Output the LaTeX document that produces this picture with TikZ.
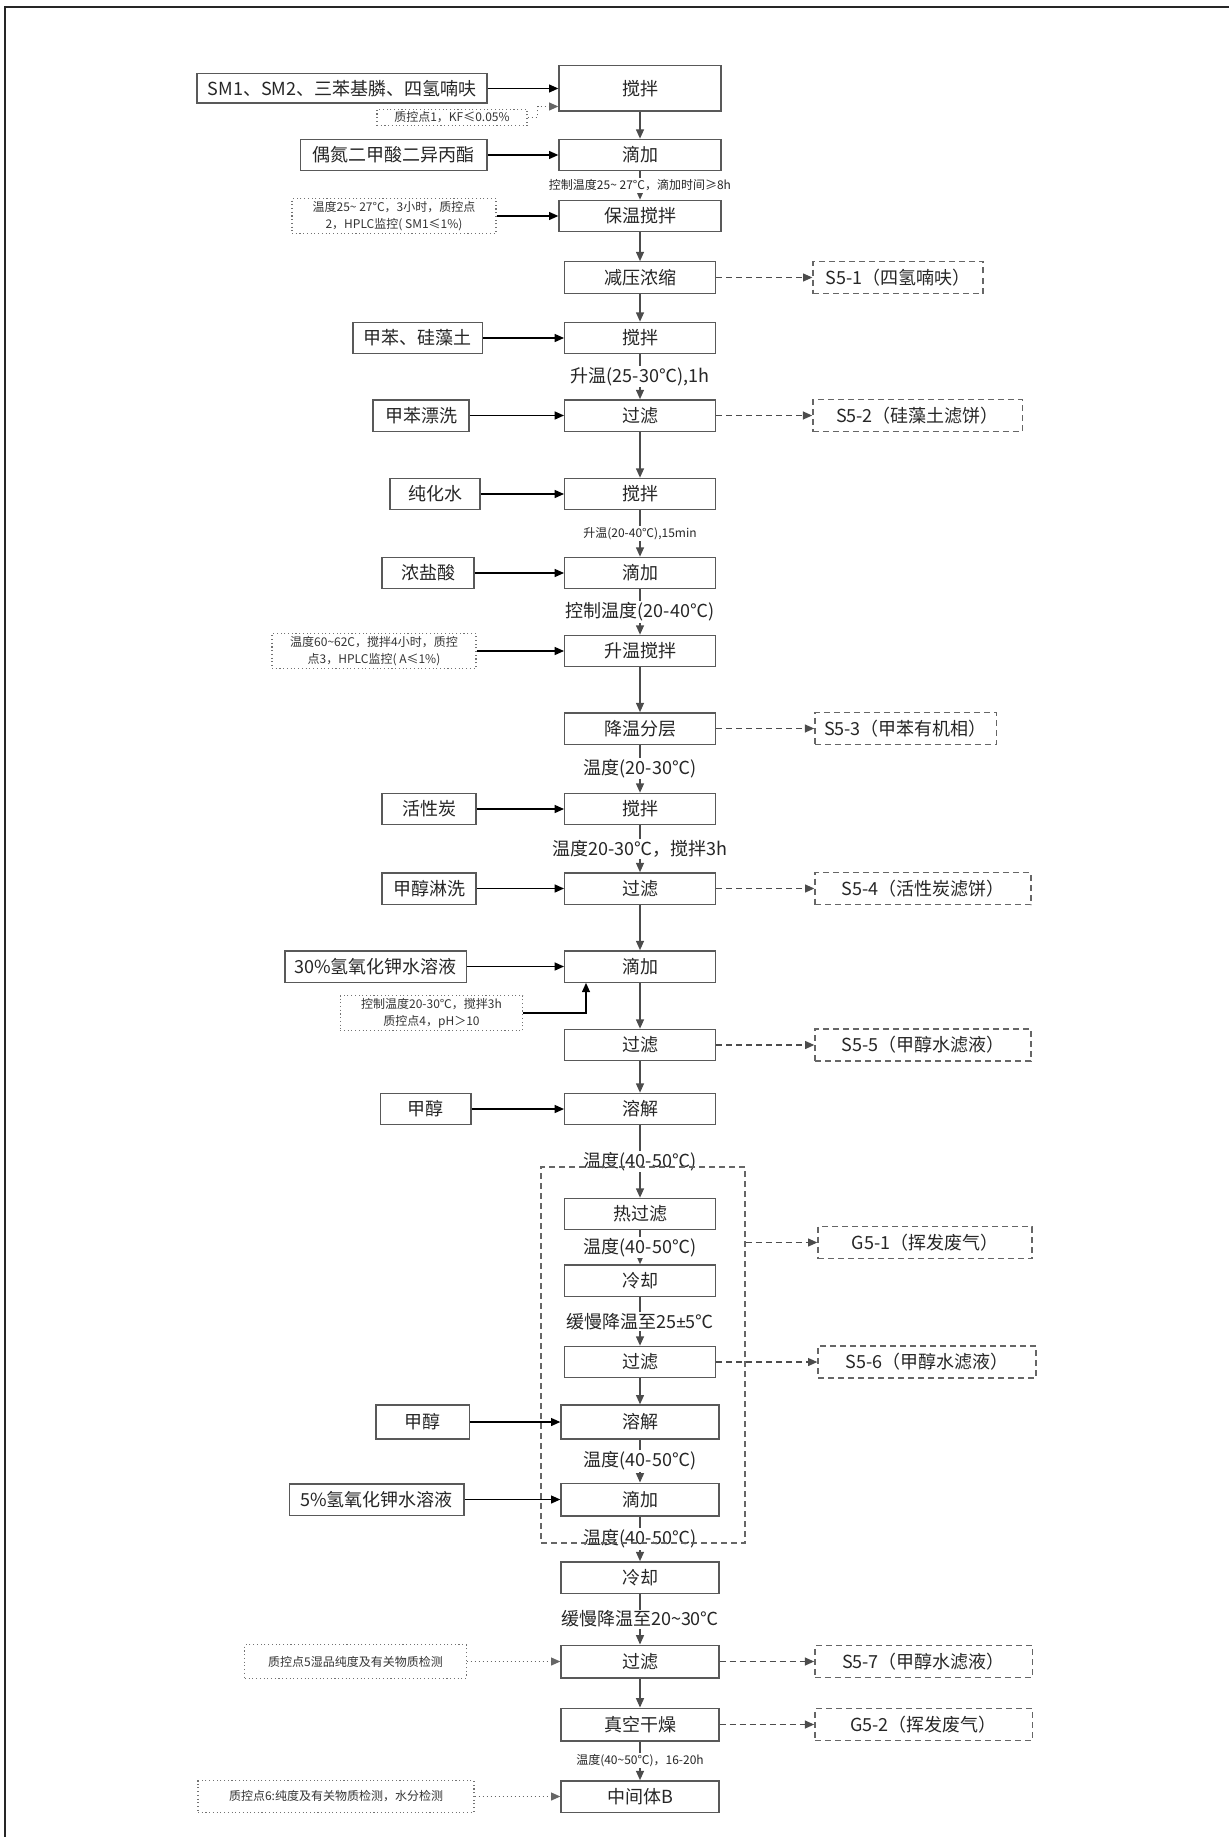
\documentclass[tikz,border=0pt]{standalone}
\usepackage{fontspec}
\setmainfont{Noto Sans CJK SC}
\newfontfamily\lat{Carlito}
\usetikzlibrary{arrows.meta}
\tikzset{pr/.style = {rectangle, draw=black!65, line width=1pt, minimum width=113pt, minimum height=23.5pt, inner sep=2pt, text=black!85, font=\fontsize{13.5}{16}\selectfont},
           mat/.style = {pr, minimum width=70pt},
           qc/.style = {rectangle, draw=black!55, dotted, line width=0.8pt, inner sep=2pt, align=center, text=black!80, font=\fontsize{9}{12.5}\selectfont},
           ws/.style = {rectangle, draw=black!60, dash pattern=on 4.5pt off 3pt, line width=1pt, minimum height=24pt, inner sep=2pt, text=black!85, font=\fontsize{13.5}{16}\selectfont},
           lb/.style = {fill=white, inner sep=1pt, text=black!85, font=\fontsize{13.5}{16}\selectfont},
           ls/.style = {lb, font=\fontsize{9}{11}\selectfont},
           fl/.style = {->, draw=black!70, line width=1pt},
           il/.style = {->, draw=black, line width=1pt},
           wl/.style = {->, draw=black!70, dash pattern=on 4.5pt off 3pt, line width=1pt},
           ql/.style = {->, draw=black!60, dotted, line width=1pt}}

\begin{document}
\begin{tikzpicture}[x=0.75pt, y=-0.75pt, >={Triangle[length=7pt, width=6pt]}]
    \useasboundingbox (0,0) rectangle (1229,1837);
    \draw[line width=1.6pt, black!85] (5,1837) -- (5,7) -- (1229,7);
    % main column
    \node[pr, minimum width=121.5pt, minimum height=34pt] (stir1) at (640,88.5) {搅拌};
    \node[pr, minimum width=121.5pt] (drop1) at (640,155) {滴加};
    \node[pr, minimum width=121.5pt] (keep) at (640,216) {保温搅拌};
    \node[pr] (conc) at (640,277.5) {减压浓缩};
    \node[pr] (stir2) at (640,338) {搅拌};
    \node[pr] (filt1) at (640,415.5) {过滤};
    \node[pr] (stir3) at (640,494) {搅拌};
    \node[pr] (drop2) at (640,573) {滴加};
    \node[pr] (heat) at (640,651) {升温搅拌};
    \node[pr] (sep) at (640,728.5) {降温分层};
    \node[pr] (stir4) at (640,809) {搅拌};
    \node[pr] (filt2) at (640,888.5) {过滤};
    \node[pr] (drop3) at (640,966.5) {滴加};
    \node[pr] (filt3) at (640,1045) {过滤};
    \node[pr] (diss1) at (640,1109) {溶解};
    \node[pr] (hotf) at (640,1214) {热过滤};
    \node[pr] (cool1) at (640,1280.5) {冷却};
    \node[pr] (filt4) at (640,1362) {过滤};
    \node[pr, minimum width=118.5pt, minimum height=25.5pt] (diss2) at (640,1422) {溶解};
    \node[pr, minimum width=118.5pt, minimum height=24.5pt] (drop4) at (640,1499.5) {滴加};
    \node[pr, minimum width=118.5pt] (cool2) at (640,1577.5) {冷却};
    \node[pr, minimum width=118.5pt, minimum height=24.5pt] (filt5) at (640,1661.5) {过滤};
    \node[pr, minimum width=118.5pt, minimum height=24.5pt] (dry) at (640,1724.5) {真空干燥};
    \node[pr, minimum width=118.5pt] (prod) at (640,1796.5) {中间体B};
    % inputs
    \node[mat, minimum width=217.5pt, minimum height=22pt] (sm) at (342,88.5) {SM1、SM2、三苯基膦、四氢喃呋};
    \node[mat, minimum width=140pt] (dia) at (393.5,155) {偶氮二甲酸二异丙酯};
    \node[mat, minimum width=97pt] (tol1) at (417.5,338) {甲苯、硅藻土};
    \node[mat, minimum width=72pt] (tol2) at (421,415.5) {甲苯漂洗};
    \node[mat, minimum width=67.5pt] (wat) at (435,494) {纯化水};
    \node[mat, minimum width=69pt] (hcl) at (428,573) {浓盐酸};
    \node[mat, minimum width=70.5pt] (carb) at (429,809) {活性炭};
    \node[mat, minimum width=70.5pt] (mer) at (429,888.5) {甲醇淋洗};
    \node[mat, minimum width=136pt] (koh1) at (375.5,966.5) {30\%氢氧化钾水溶液};
    \node[mat, minimum width=68pt] (me1) at (425.5,1109) {甲醇};
    \node[mat, minimum width=70pt, minimum height=25.5pt] (me2) at (422.5,1422) {甲醇};
    \node[mat, minimum width=131pt] (koh2) at (376.5,1499.5) {5\%氢氧化钾水溶液};
    % quality control points
    \node[qc, minimum width=112.5pt, minimum height=11pt] (qc1) at (452,117.5) {质控点1，KF≤0.05\%};
    \node[qc, minimum width=153pt, minimum height=25pt] (qc2) at (394,216) {温度25\textasciitilde{} 27°C，3小时，质控点\\2，HPLC监控( SM1≤1\%)};
    \node[qc, minimum width=153pt, minimum height=26pt] (qc3) at (374,651) {温度60\textasciitilde{}62C，搅拌4小时，质控\\点3，HPLC监控( A≤1\%)};
    \node[qc, minimum width=137pt, minimum height=25.5pt] (qc4) at (431.5,1013) {控制温度20-30℃，搅拌3h\\质控点4，pH＞10};
    \node[qc, minimum width=166pt, minimum height=25pt] (qc5) at (355.5,1661.5) {质控点5湿品纯度及有关物质检测};
    \node[qc, minimum width=207pt, minimum height=23.5pt] (qc6) at (336,1796.5) {质控点6:纯度及有关物质检测，水分检测};
    % waste
    \node[ws, minimum width=127.5pt] (s51) at (898,277.5) {S5-1（四氢喃呋）};
    \node[ws, minimum width=157pt] (s52) at (917.5,415.5) {S5-2（硅藻土滤饼）};
    \node[ws, minimum width=136pt] (s53) at (905.5,728.5) {S5-3（甲苯有机相）};
    \node[ws, minimum width=162pt] (s54) at (923,888.5) {S5-4（活性炭滤饼）};
    \node[ws, minimum width=162pt] (s55) at (923,1045) {S5-5（甲醇水滤液）};
    \node[ws, minimum width=160.5pt] (g51) at (925,1242.5) {G5-1（挥发废气）};
    \node[ws, minimum width=163.5pt] (s56) at (927,1362) {S5-6（甲醇水滤液）};
    \node[ws, minimum width=163pt] (s57) at (923.5,1661.5) {S5-7（甲醇水滤液）};
    \node[ws, minimum width=163pt] (g52) at (923.5,1724.5) {G5-2（挥发废气）};
    % flow
    \draw[fl] (stir1) -- (drop1);
    \draw[fl] (drop1) -- node[ls] {控制温度25\textasciitilde{} 27°C，滴加时间≥8h} (keep);
    \draw[fl] (keep) -- (conc);
    \draw[fl] (conc) -- (stir2);
    \draw[fl] (stir2) -- node[lb] {升温(25-30℃),1h} (filt1);
    \draw[fl] (filt1) -- (stir3);
    \draw[fl] (stir3) -- node[ls] {升温(20-40℃),15min} (drop2);
    \draw[fl] (drop2) -- node[lb] {控制温度(20-40℃)} (heat);
    \draw[fl] (heat) -- (sep);
    \draw[fl] (sep) -- node[lb] {温度(20-30℃)} (stir4);
    \draw[fl] (stir4) -- node[lb] {温度20-30℃，搅拌3h} (filt2);
    \draw[fl] (filt2) -- (drop3);
    \draw[fl] (drop3) -- (filt3);
    \draw[fl] (filt3) -- (diss1);
    \draw[fl] (diss1) -- node[lb] {温度(40-50℃)} (hotf);
    \draw[fl] (hotf) -- node[lb] {温度(40-50℃)} (cool1);
    \draw[fl] (cool1) -- node[lb] {缓慢降温至25{\lat ±}5℃} (filt4);
    \draw[fl] (filt4) -- (diss2);
    \draw[fl] (diss2) -- node[lb] {温度(40-50℃)} (drop4);
    \draw[fl] (drop4) -- node[lb] {温度(40-50℃)} (cool2);
    \draw[fl] (cool2) -- node[lb] {缓慢降温至20\textasciitilde{}30℃} (filt5);
    \draw[fl] (filt5) -- (dry);
    \draw[fl] (dry) -- node[ls] {温度(40\textasciitilde{}50℃)，16-20h} (prod);
    \node[draw=black!60, dash pattern=on 4.5pt off 3pt, line width=1pt, minimum width=153pt, minimum height=282pt, inner sep=0pt] (grp) at (643,1355) {};
    % feeds
    \draw[il] (sm) -- (stir1);
    \draw[ql] (qc1.east) -- ++(10,0) |- ([yshift=4pt]stir1.south west);
    \draw[il] (dia) -- (drop1);
    \draw[il] (qc2) -- (keep);
    \draw[il] (tol1) -- (stir2);
    \draw[il] (tol2) -- (filt1);
    \draw[il] (wat) -- (stir3);
    \draw[il] (hcl) -- (drop2);
    \draw[il] (qc3) -- (heat);
    \draw[il] (carb) -- (stir4);
    \draw[il] (mer) -- (filt2);
    \draw[il] (koh1) -- (drop3);
    \draw[il] (qc4.east) -| ([xshift=16.5pt]drop3.south west);
    \draw[il] (me1) -- (diss1);
    \draw[il] (me2) -- (diss2);
    \draw[il] (koh2) -- (drop4);
    \draw[ql] (qc5) -- (filt5);
    \draw[ql] (qc6) -- (prod);
    % waste streams
    \draw[wl] (conc) -- (s51);
    \draw[wl] (filt1) -- (s52);
    \draw[wl] (sep) -- (s53);
    \draw[wl] (filt2) -- (s54);
    \draw[wl] (filt3) -- (s55);
    \draw[wl] (grp.east |- g51) -- (g51);
    \draw[wl] (filt4) -- (s56);
    \draw[wl] (filt5) -- (s57);
    \draw[wl] (dry) -- (g52);
\end{tikzpicture}
\end{document}
